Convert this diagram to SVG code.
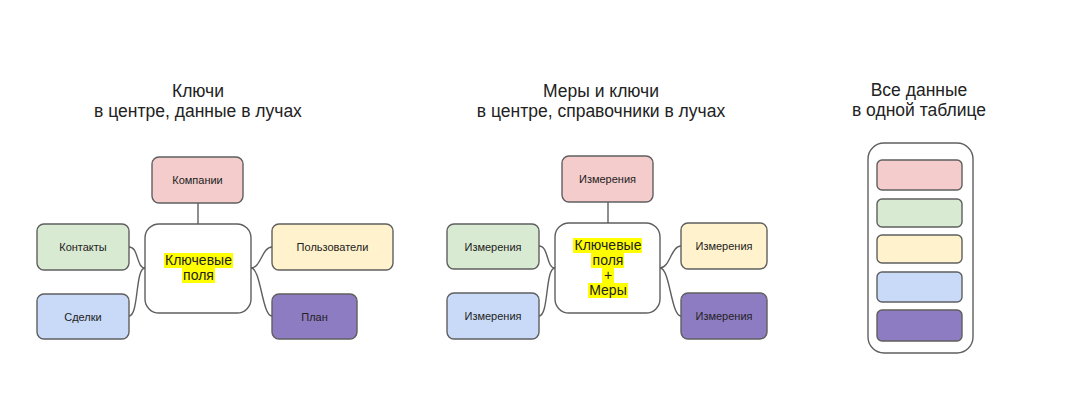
<svg xmlns="http://www.w3.org/2000/svg" width="1080" height="406" viewBox="0 0 1080 406">
<style>
.t{font-family:"Liberation Sans",Arial,sans-serif;font-size:17.5px;fill:#222;text-anchor:middle}
.l{font-family:"Liberation Sans",Arial,sans-serif;font-size:11px;fill:#222;text-anchor:middle;dominant-baseline:central}
.c{font-family:"Liberation Sans",Arial,sans-serif;font-size:14px;fill:#222;text-anchor:middle}
.b{stroke:#5f5f5f;stroke-width:1.4}
.pk{fill:#f4cccc}.gr{fill:#d9ead3}.ye{fill:#fff2cc}.bl{fill:#c9daf8}.pu{fill:#8e7cc3}.wh{fill:#fff}
.hl{fill:#ffff00}
.cn{fill:none;stroke:#5f5f5f;stroke-width:1.4}
</style>
<rect width="1080" height="406" fill="#fff"/>
<g id="titles">
<text class="t" x="198" y="97">Ключи</text>
<text class="t" x="198" y="117">в центре, данные в лучах</text>
<text class="t" x="601" y="97">Меры и ключи</text>
<text class="t" x="601" y="117">в центре, справочники в лучах</text>
<text class="t" x="919" y="96">Все данные</text>
<text class="t" x="919" y="116">в одной таблице</text>
</g>
<g id="connectors">
<path class="cn" d="M198,203 V224"/>
<path class="cn" d="M129,247 C139,247 136,268 145,268"/>
<path class="cn" d="M145,268 C135,268 139,316 129,316"/>
<path class="cn" d="M251,268 C261,268 262,247 272,247"/>
<path class="cn" d="M251,268 C261,268 262,316 272,316"/>
<path class="cn" d="M608,202 V223"/>
<path class="cn" d="M539,246 C549,246 546,268 555,268"/>
<path class="cn" d="M555,268 C545,268 549,316 539,316"/>
<path class="cn" d="M660,268 C670,268 671,246 681,246"/>
<path class="cn" d="M660,268 C670,268 671,316 681,316"/>
</g>
<g id="n-companies"><rect class="b pk" x="152" y="157" width="91" height="46" rx="7"/><text class="l" x="197.5" y="180">Компании</text></g>
<g id="n-contacts"><rect class="b gr" x="37" y="224" width="92" height="46" rx="7"/><text class="l" x="83" y="247">Контакты</text></g>
<g id="n-deals"><rect class="b bl" x="37" y="294" width="92" height="45" rx="7"/><text class="l" x="83" y="316.5">Сделки</text></g>
<g id="n-users"><rect class="b ye" x="272" y="224" width="121" height="46" rx="7"/><text class="l" x="332.5" y="247">Пользователи</text></g>
<g id="n-plan"><rect class="b pu" x="272" y="294" width="85" height="45" rx="7"/><text class="l" x="314.5" y="316.5">План</text></g>
<g id="n-keys1">
<rect class="b wh" x="145" y="224" width="106" height="89" rx="14"/>
<rect class="hl" x="164" y="253" width="69" height="15"/>
<rect class="hl" x="182" y="268" width="33" height="15"/>
<text class="c" x="198.5" y="265">Ключевые</text>
<text class="c" x="198.5" y="280">поля</text>
</g>
<g id="n-dim-top"><rect class="b pk" x="562" y="156" width="91" height="46" rx="7"/><text class="l" x="607.5" y="179">Измерения</text></g>
<g id="n-dim-lt"><rect class="b gr" x="447" y="224" width="92" height="45" rx="7"/><text class="l" x="493" y="246.5">Измерения</text></g>
<g id="n-dim-lb"><rect class="b bl" x="447" y="293" width="92" height="46" rx="7"/><text class="l" x="493" y="316">Измерения</text></g>
<g id="n-dim-rt"><rect class="b ye" x="681" y="223" width="86" height="46" rx="7"/><text class="l" x="724" y="246">Измерения</text></g>
<g id="n-dim-rb"><rect class="b pu" x="681" y="293" width="86" height="46" rx="7"/><text class="l" x="724" y="316">Измерения</text></g>
<g id="n-keys2">
<rect class="b wh" x="555" y="223" width="105" height="90" rx="14"/>
<rect class="hl" x="573" y="238" width="69" height="15"/>
<rect class="hl" x="591" y="253" width="33" height="15"/>
<rect class="hl" x="602" y="268" width="12" height="15"/>
<rect class="hl" x="588" y="283" width="40" height="15"/>
<text class="c" x="608" y="250">Ключевые</text>
<text class="c" x="608" y="265">поля</text>
<text class="c" x="608" y="280">+</text>
<text class="c" x="608" y="295">Меры</text>
</g>
<g id="n-table">
<rect class="b wh" x="868" y="143" width="105" height="210" rx="16"/>
<rect class="b pk" x="877" y="160" width="85" height="30" rx="5"/>
<rect class="b gr" x="877" y="199" width="85" height="28" rx="5"/>
<rect class="b ye" x="877" y="235" width="85" height="28" rx="5"/>
<rect class="b bl" x="877" y="272" width="85" height="30" rx="5"/>
<rect class="b pu" x="877" y="310" width="85" height="31" rx="5"/>
</g>
</svg>
